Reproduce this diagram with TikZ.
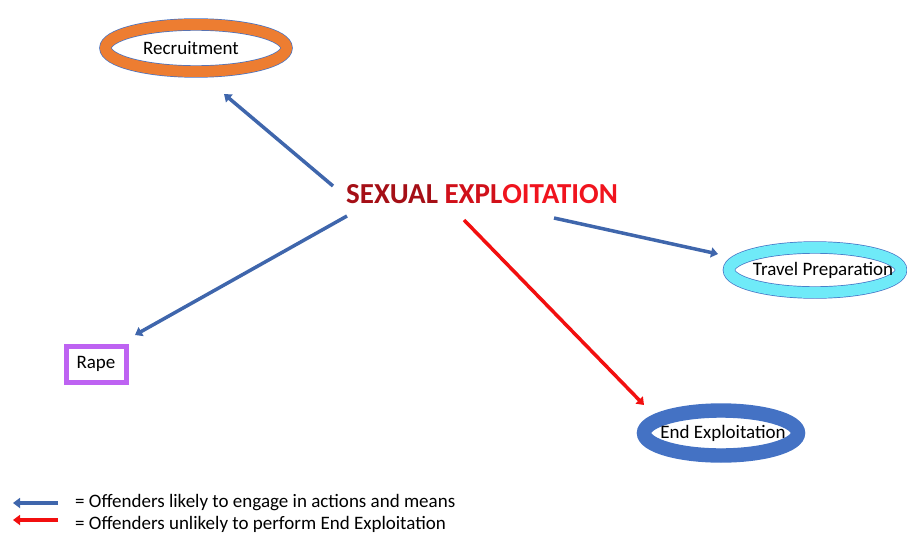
\documentclass[tikz,border=0pt]{standalone}
\usepackage{fontspec}
\setmainfont{Carlito}
\usetikzlibrary{shapes.geometric,arrows.meta,calc}
\definecolor{edgeblue}{HTML}{4472C4}
\definecolor{linkblue}{HTML}{3F66AC}
\definecolor{linkred}{HTML}{F20F0F}
\definecolor{ringorange}{HTML}{ED7D31}
\definecolor{ringcyan}{HTML}{6FEAF8}
\definecolor{ringblue}{HTML}{4472C4}
\definecolor{boxpurple}{HTML}{BE63F2}
\definecolor{titleA}{HTML}{A50F16}
\definecolor{titleB}{HTML}{D0101A}
\definecolor{titleC}{HTML}{F0141E}
% ellipse label whose width does not enlarge the shape
\newcommand{\ringlabel}[2][0pt]{\makebox[0pt]{\hspace*{#1}#2}}
\tikzset{
  ring/.style={ellipse, draw=edgeblue, line width=0.7pt, double=#1,
    double distance=11pt, fill=white, inner sep=0pt, font=\fontsize{19}{22}\selectfont},
  boxnode/.style={rectangle, draw=boxpurple, line width=5pt, fill=white,
    minimum width=60pt, minimum height=36pt, inner sep=0pt, font=\fontsize{19}{22}\selectfont},
  link/.style={line width=3.5pt, color=#1, -{Triangle[width=10pt,length=7pt]}},
  legendtext/.style={anchor=west, inner sep=0pt, font=\fontsize{19}{22}\selectfont}
}
\begin{document}
\begin{tikzpicture}[x=1pt,y=-1pt]
  \useasboundingbox (0,0) rectangle (907,535);
  % central title
  \node[inner sep=0pt, font=\bfseries\fontsize{29}{33}\selectfont] (se) at (482,194)
    {\textcolor{titleA}{SEXUAL} \textcolor{titleB}{EXPL}\textcolor{titleC}{OITATION}};
  % phase nodes
  \node[ring=ringorange, minimum width=181pt, minimum height=47pt] (rec) at (196,48) {\ringlabel[-10pt]{Recruitment}};
  \node[ring=ringcyan, minimum width=172pt, minimum height=45pt] (trav) at (815,270) {\ringlabel[16pt]{Travel Preparation}};
  \node[ring=ringblue, double distance=13pt, minimum width=154pt, minimum height=45pt] (endx) at (721,433) {\ringlabel[4pt]{End Exploitation}};
  \node[boxnode] (rape) at (96,364) {Rape};
  % connectors
  \draw[link=linkblue] ($(se)+(-149,-8)$) -- ($(rec)+(28,46)$);
  \draw[link=linkblue] ($(se)+(-135,22)$) -- ($(rape)+(39,-29)$);
  \draw[link=linkblue] ($(se)+(72,24)$) -- ($(trav)+(-97,-16)$);
  \draw[link=linkred]  ($(se)+(-18,26)$) -- ($(endx)+(-77,-28)$);
  % legend
  \coordinate (l1a) at (58,503);
  \coordinate (l1b) at (13,503);
  \coordinate (l2a) at (58,520);
  \coordinate (l2b) at (13,520);
  \draw[link=linkblue] (l1a) -- (l1b);
  \draw[link=linkred] (l2a) -- (l2b);
  \node[legendtext] (t1) at (75,503) {= Offenders likely to engage in actions and means};
  \node[legendtext] (t2) at (75,524) {= Offenders unlikely to perform End Exploitation};
\end{tikzpicture}
\end{document}
